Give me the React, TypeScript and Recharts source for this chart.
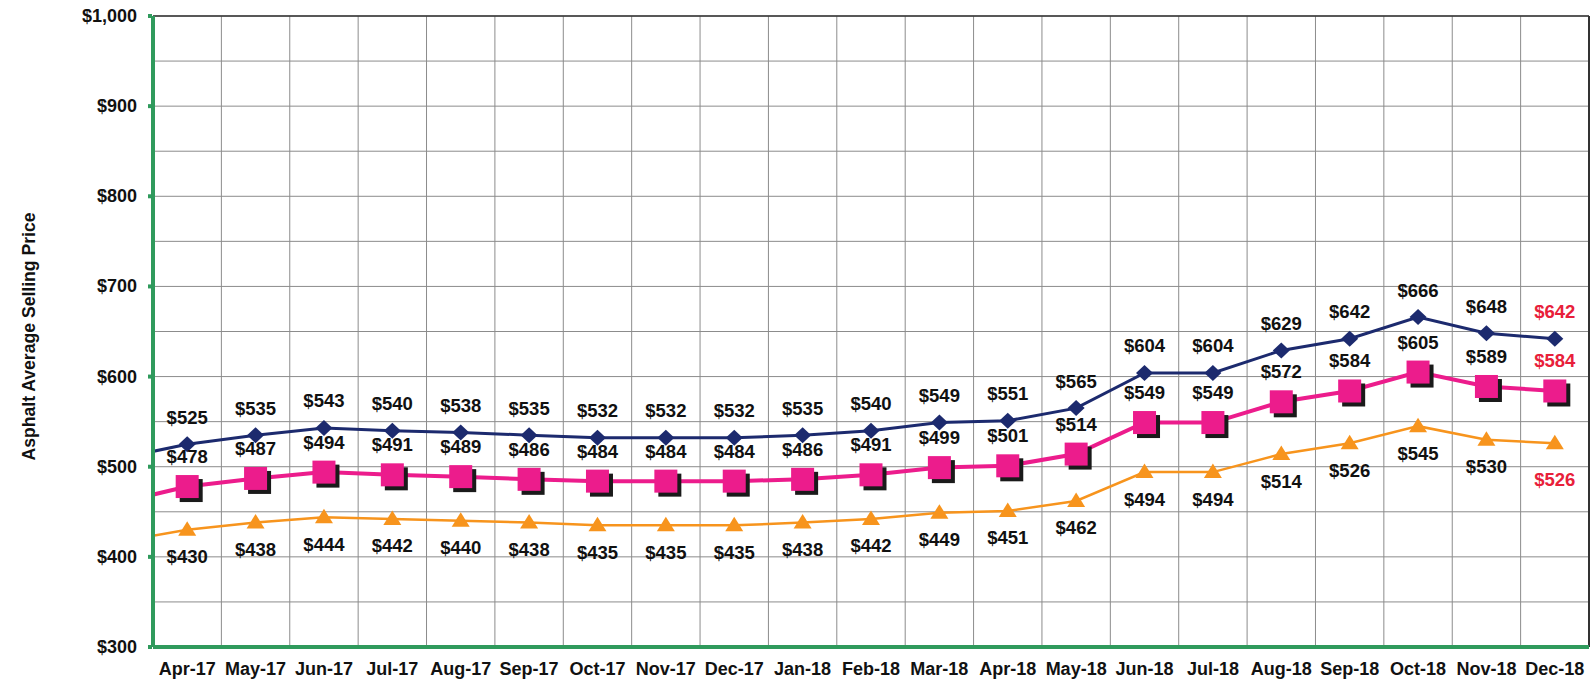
import React from "react";
import { LineChart, Line, XAxis, YAxis, CartesianGrid, LabelList, ReferenceLine } from "recharts";

// first entry is the month before the window; only its line segment shows at the left edge
const MONTHS = [
  "Mar-17", "Apr-17", "May-17", "Jun-17", "Jul-17", "Aug-17", "Sep-17", "Oct-17", "Nov-17", "Dec-17",
  "Jan-18", "Feb-18", "Mar-18", "Apr-18", "May-18", "Jun-18", "Jul-18", "Aug-18", "Sep-18", "Oct-18",
  "Nov-18", "Dec-18",
];
const HIGH = [509, 525, 535, 543, 540, 538, 535, 532, 532, 532, 535, 540, 549, 551, 565, 604, 604, 629, 642, 666, 648, 642];
const AVG = [460, 478, 487, 494, 491, 489, 486, 484, 484, 484, 486, 491, 499, 501, 514, 549, 549, 572, 584, 605, 589, 584];
const LOW = [417, 430, 438, 444, 442, 440, 438, 435, 435, 435, 438, 442, 449, 451, 462, 494, 494, 514, 526, 545, 530, 526];
const Y_TICKS = [300, 350, 400, 450, 500, 550, 600, 650, 700, 750, 800, 850, 900, 950, 1000];
const X_LABEL_TICKS = MONTHS.slice(1).map((_, i) => i);
const X_GRID_TICKS = MONTHS.map((_, i) => i - 0.5);

const DATA = MONTHS.map((m, i) => ({ x: i - 1, month: m, high: HIGH[i], avg: AVG[i], low: LOW[i] }));

const FONT = "'Liberation Sans', Arial, sans-serif";
const NAVY = "#1c2a6e";
const PINK = "#ec1c8c";
const ORANGE = "#f7941d";
const GREEN = "#2f9a5c";
const RED = "#e8203a";
const LAST = DATA.length - 1;

const dollar = (v: number) => "$" + v.toLocaleString("en-US");

const makeLabel = (dy: number, lastDy: number) => (p: any) => {
  if (p.index === 0) return null;
  const last = p.index === LAST;
  return (
    <text x={p.x} y={p.y + (last ? lastDy : dy)} textAnchor="middle" dominantBaseline="central"
      fontFamily={FONT} fontWeight="bold" fontSize={18.5} fill={last ? RED : "#111"}>
      {dollar(p.value)}
    </text>
  );
};

const Diamond = (p: any) => {
  if (p.index === 0) return null;
  const { cx, cy } = p;
  return <polygon points={`${cx},${cy - 8} ${cx + 8.5},${cy} ${cx},${cy + 8} ${cx - 8.5},${cy}`} fill={NAVY} />;
};

const Square = (p: any) => {
  if (p.index === 0) return null;
  const { cx, cy } = p;
  const s = 23;
  return (
    <g>
      <rect x={cx - s / 2 + 4} y={cy - s / 2 + 4} width={s} height={s} fill="#1a1a1a" />
      <rect x={cx - s / 2} y={cy - s / 2} width={s} height={s} fill={PINK} />
    </g>
  );
};

const Triangle = (p: any) => {
  if (p.index === 0) return null;
  const { cx, cy } = p;
  return <polygon points={`${cx},${cy - 8.5} ${cx + 9},${cy + 6} ${cx - 9},${cy + 6}`} fill={ORANGE} />;
};

const YTick = (p: any) => {
  const v = p.payload.value;
  if (v % 100 !== 0) return null;
  return (
    <g>
      <rect x={p.x + 11} y={p.y - 2} width={4} height={4} fill={GREEN} />
      <text x={p.x} y={p.y} textAnchor="end" dominantBaseline="central"
        fontFamily={FONT} fontWeight="bold" fontSize={18} fill="#111">
        {dollar(v)}
      </text>
    </g>
  );
};

export default function App() {
  return (
    <div style={{ position: "absolute", left: 0, top: 0, width: 1595, height: 681, background: "#fff" }}>
      <LineChart width={1595} height={681} data={DATA} margin={{ top: 16, right: 6, bottom: 0, left: 0 }}>
        <CartesianGrid vertical={false} stroke="#8c8c8c" strokeWidth={1} />
        <XAxis dataKey="x" type="number" domain={[-0.5, 20.5]} allowDataOverflow
          ticks={X_LABEL_TICKS} interval={0} height={34} axisLine={{ stroke: GREEN, strokeWidth: 4 }}
          tickLine={false} tickSize={0} tickMargin={15}
          tickFormatter={(v: number) => MONTHS[v + 1]}
          tick={{ fontFamily: FONT, fontWeight: "bold", fontSize: 18, fill: "#111" }} />
        <YAxis domain={[300, 1000]} ticks={Y_TICKS} interval={0} width={153} allowDataOverflow
          axisLine={{ stroke: GREEN, strokeWidth: 4 }} tickLine={false} tickSize={0} tickMargin={16}
          tick={<YTick />}
          label={{
            content: (lp: any) => {
              const vb = lp.viewBox || {};
              const cy = (vb.y ?? 16) + (vb.height ?? 631) / 2 + 5;
              return (
                <text x={29} y={cy} transform={`rotate(-90 29 ${cy})`} textAnchor="middle"
                  dominantBaseline="central" fontFamily={FONT} fontWeight="bold" fontSize={17.6} fill="#111">
                  Asphalt Average Selling Price
                </text>
              );
            },
          }} />
        {X_GRID_TICKS.slice(1, -1).map((x) => (
          <ReferenceLine key={x} x={x} stroke="#8c8c8c" strokeWidth={1} />
        ))}
        <ReferenceLine x={20.5} stroke="#333" strokeWidth={2} />
        <ReferenceLine y={1000} stroke="#333" strokeWidth={1.5} />
        <ReferenceLine y={300} stroke={GREEN} strokeWidth={4} />
        <Line type="linear" dataKey="low" stroke={ORANGE} strokeWidth={2.5}
          dot={<Triangle />} activeDot={false} isAnimationActive={false}>
          <LabelList dataKey="low" content={makeLabel(27, 36)} />
        </Line>
        <Line type="linear" dataKey="avg" stroke={PINK} strokeWidth={4}
          dot={<Square />} activeDot={false} isAnimationActive={false}>
          <LabelList dataKey="avg" content={makeLabel(-30, -30)} />
        </Line>
        <Line type="linear" dataKey="high" stroke={NAVY} strokeWidth={3}
          dot={<Diamond />} activeDot={false} isAnimationActive={false}>
          <LabelList dataKey="high" content={makeLabel(-27, -27)} />
        </Line>
      </LineChart>
    </div>
  );
}
